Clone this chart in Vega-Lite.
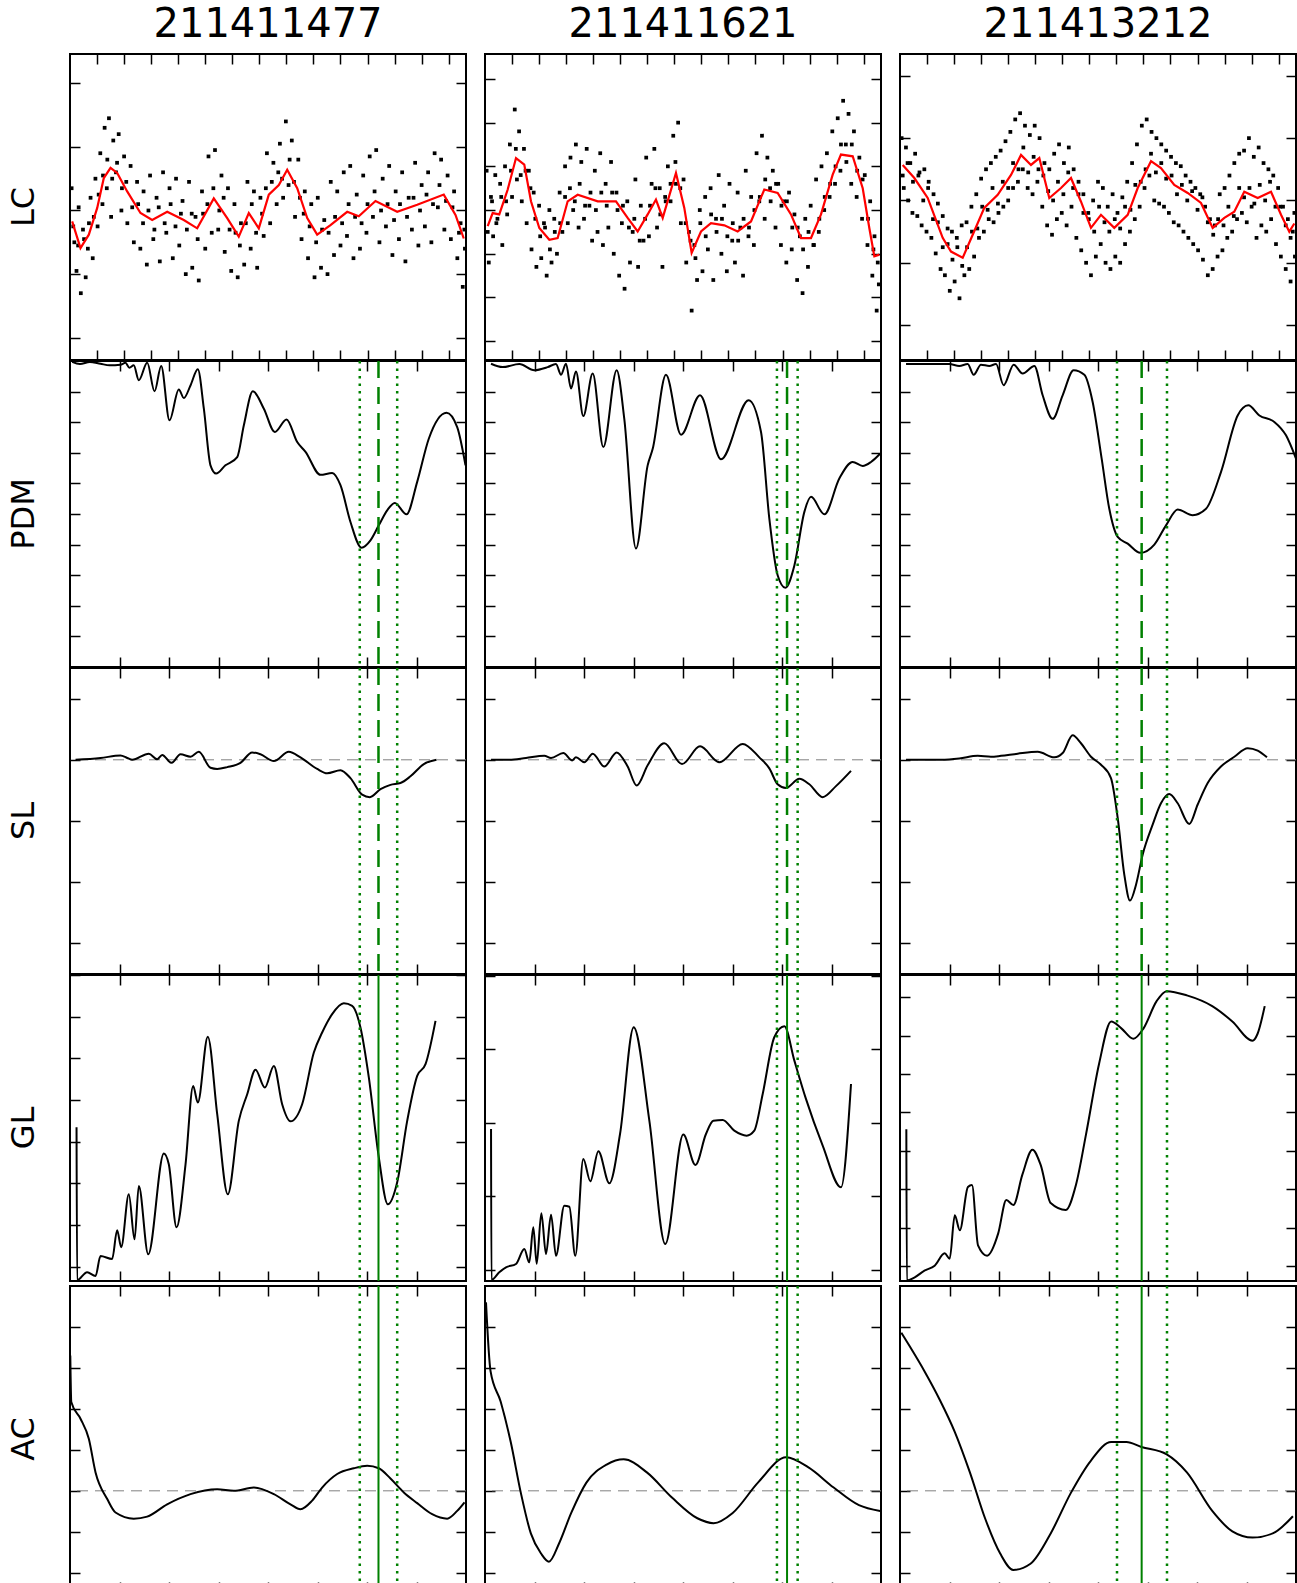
{
"$schema":"https://vega.github.io/schema/vega-lite/v6.json",
"background":"white",
"padding":{"left":7,"top":5,"right":0,"bottom":0},
"spacing":-7,
"config":{
 "font":"DejaVu Sans",
 "view":{"stroke":"black","strokeWidth":2},
 "axis":{"labels":false,"grid":false,"domain":false,"ticks":true,"tickSize":-10,"tickColor":"black","tickWidth":1.5,"minExtent":0,"maxExtent":0},
 "header":{"labelFont":"DejaVu Sans","labelColor":"black"},
 "headerColumn":{"labelFontSize":40,"labelPadding":8},
 "headerRow":{"labelFontSize":32,"labelAngle":-90,"labelPadding":14},
 "line":{"strokeWidth":2,"color":"black","clip":true}
},
"datasets":{
"LC":[
{"c":1,"k":"b","y":-2.35,"y2":2.46},{"c":2,"k":"b","y":-3.43,"y2":3.57},{"c":3,"k":"b","y":-2.56,"y2":2.35},
{"c":1,"k":"r","x":0.4,"y":-0.17},{"c":1,"k":"r","x":1.94,"y":-0.59},{"c":1,"k":"r","x":3.48,"y":-0.38},{"c":1,"k":"r","x":5.03,"y":0.04},{"c":1,"k":"r","x":6.25,"y":0.51},{"c":1,"k":"r","x":7.49,"y":0.67},{"c":1,"k":"r","x":8.72,"y":0.59},{"c":1,"k":"r","x":10.57,"y":0.3},{"c":1,"k":"r","x":13.03,"y":-0.04},{"c":1,"k":"r","x":15.19,"y":-0.15},{"c":1,"k":"r","x":17.97,"y":-0.02},{"c":1,"k":"r","x":21.03,"y":-0.15},{"c":1,"k":"r","x":23.51,"y":-0.28},{"c":1,"k":"r","x":26.58,"y":0.19},{"c":1,"k":"r","x":29.06,"y":-0.12},{"c":1,"k":"r","x":31.2,"y":-0.41},{"c":1,"k":"r","x":33.05,"y":-0.04},{"c":1,"k":"r","x":34.9,"y":-0.28},{"c":1,"k":"r","x":36.75,"y":0.25},{"c":1,"k":"r","x":38.6,"y":0.4},{"c":1,"k":"r","x":40.15,"y":0.64},{"c":1,"k":"r","x":42.0,"y":0.35},{"c":1,"k":"r","x":43.85,"y":-0.12},{"c":1,"k":"r","x":45.69,"y":-0.38},{"c":1,"k":"r","x":48.15,"y":-0.23},{"c":1,"k":"r","x":51.24,"y":-0.02},{"c":1,"k":"r","x":53.38,"y":-0.09},{"c":1,"k":"r","x":56.47,"y":0.15},{"c":1,"k":"r","x":60.48,"y":-0.02},{"c":1,"k":"r","x":64.18,"y":0.09},{"c":1,"k":"r","x":69.09,"y":0.25},{"c":1,"k":"r","x":71.26,"y":-0.07},{"c":1,"k":"r","x":72.79,"y":-0.44},
{"c":2,"k":"r","x":0.5,"y":-0.37},{"c":2,"k":"r","x":1.42,"y":-0.07},{"c":2,"k":"r","x":2.64,"y":-0.1},{"c":2,"k":"r","x":4.2,"y":0.47},{"c":2,"k":"r","x":5.73,"y":1.19},{"c":2,"k":"r","x":7.26,"y":1.04},{"c":2,"k":"r","x":8.5,"y":0.2},{"c":2,"k":"r","x":10.04,"y":-0.41},{"c":2,"k":"r","x":11.89,"y":-0.68},{"c":2,"k":"r","x":13.43,"y":-0.64},{"c":2,"k":"r","x":15.28,"y":0.2},{"c":2,"k":"r","x":17.13,"y":0.35},{"c":2,"k":"r","x":20.83,"y":0.2},{"c":2,"k":"r","x":24.21,"y":0.2},{"c":2,"k":"r","x":26.37,"y":-0.18},{"c":2,"k":"r","x":28.22,"y":-0.49},{"c":2,"k":"r","x":30.07,"y":-0.1},{"c":2,"k":"r","x":31.6,"y":0.24},{"c":2,"k":"r","x":32.85,"y":-0.18},{"c":2,"k":"r","x":35.3,"y":0.85},{"c":2,"k":"r","x":36.84,"y":0.05},{"c":2,"k":"r","x":38.2,"y":-0.98},{"c":2,"k":"r","x":39.93,"y":-0.49},{"c":2,"k":"r","x":41.77,"y":-0.3},{"c":2,"k":"r","x":44.24,"y":-0.35},{"c":2,"k":"r","x":46.7,"y":-0.49},{"c":2,"k":"r","x":49.17,"y":-0.26},{"c":2,"k":"r","x":51.63,"y":0.47},{"c":2,"k":"r","x":54.1,"y":0.39},{"c":2,"k":"r","x":56.56,"y":-0.1},{"c":2,"k":"r","x":58.41,"y":-0.64},{"c":2,"k":"r","x":60.26,"y":-0.64},{"c":2,"k":"r","x":62.11,"y":-0.1},{"c":2,"k":"r","x":64.27,"y":0.81},{"c":2,"k":"r","x":65.8,"y":1.27},{"c":2,"k":"r","x":67.97,"y":1.23},{"c":2,"k":"r","x":69.82,"y":0.5},{"c":2,"k":"r","x":71.04,"y":-0.41},{"c":2,"k":"r","x":71.97,"y":-1.06},{"c":2,"k":"r","x":72.9,"y":-1.02},
{"c":3,"k":"r","x":0.5,"y":0.57},{"c":3,"k":"r","x":2.65,"y":0.36},{"c":3,"k":"r","x":5.12,"y":0.04},{"c":3,"k":"r","x":7.89,"y":-0.6},{"c":3,"k":"r","x":9.43,"y":-0.82},{"c":3,"k":"r","x":11.59,"y":-0.92},{"c":3,"k":"r","x":13.44,"y":-0.55},{"c":3,"k":"r","x":15.58,"y":-0.12},{"c":3,"k":"r","x":18.06,"y":0.09},{"c":3,"k":"r","x":20.52,"y":0.41},{"c":3,"k":"r","x":22.37,"y":0.73},{"c":3,"k":"r","x":24.21,"y":0.57},{"c":3,"k":"r","x":25.75,"y":0.68},{"c":3,"k":"r","x":27.6,"y":0.04},{"c":3,"k":"r","x":29.76,"y":0.2},{"c":3,"k":"r","x":31.61,"y":0.36},{"c":3,"k":"r","x":33.46,"y":-0.02},{"c":3,"k":"r","x":35.3,"y":-0.44},{"c":3,"k":"r","x":37.15,"y":-0.23},{"c":3,"k":"r","x":39.61,"y":-0.44},{"c":3,"k":"r","x":42.09,"y":-0.23},{"c":3,"k":"r","x":43.94,"y":0.2},{"c":3,"k":"r","x":46.4,"y":0.63},{"c":3,"k":"r","x":48.24,"y":0.52},{"c":3,"k":"r","x":50.7,"y":0.25},{"c":3,"k":"r","x":53.18,"y":0.12},{"c":3,"k":"r","x":55.64,"y":-0.04},{"c":3,"k":"r","x":57.8,"y":-0.44},{"c":3,"k":"r","x":59.95,"y":-0.28},{"c":3,"k":"r","x":61.79,"y":-0.18},{"c":3,"k":"r","x":63.64,"y":0.14},{"c":3,"k":"r","x":66.12,"y":0.04},{"c":3,"k":"r","x":68.58,"y":0.14},{"c":3,"k":"r","x":70.43,"y":-0.23},{"c":3,"k":"r","x":71.96,"y":-0.5},{"c":3,"k":"r","x":72.89,"y":-0.37},
{"c":1,"k":"p","x":0.3,"y":0.35},{"c":1,"k":"p","x":0.8,"y":-0.5},{"c":1,"k":"p","x":1.2,"y":-0.95},{"c":1,"k":"p","x":1.6,"y":0.05},{"c":1,"k":"p","x":2.0,"y":-1.3},{"c":1,"k":"p","x":2.4,"y":-0.3},{"c":1,"k":"p","x":2.9,"y":-1.05},{"c":1,"k":"p","x":3.3,"y":-0.6},{"c":1,"k":"p","x":3.8,"y":0.2},{"c":1,"k":"p","x":4.2,"y":-0.75},{"c":1,"k":"p","x":4.7,"y":0.5},{"c":1,"k":"p","x":5.1,"y":-0.25},{"c":1,"k":"p","x":5.6,"y":0.9},{"c":1,"k":"p","x":6.0,"y":0.1},{"c":1,"k":"p","x":6.4,"y":1.3},{"c":1,"k":"p","x":6.8,"y":0.35},{"c":1,"k":"p","x":7.2,"y":1.45},{"c":1,"k":"p","x":7.6,"y":-0.1},{"c":1,"k":"p","x":8.0,"y":1.1},{"c":1,"k":"p","x":8.5,"y":0.6},{"c":1,"k":"p","x":9.0,"y":1.2},{"c":1,"k":"p","x":9.5,"y":0.0},{"c":1,"k":"p","x":10.0,"y":0.85},{"c":1,"k":"p","x":10.6,"y":-0.2},{"c":1,"k":"p","x":11.2,"y":0.7},{"c":1,"k":"p","x":11.8,"y":-0.5},{"c":1,"k":"p","x":12.4,"y":0.45},{"c":1,"k":"p","x":13.0,"y":-0.6},{"c":1,"k":"p","x":13.6,"y":0.3},{"c":1,"k":"p","x":14.2,"y":-0.85},{"c":1,"k":"p","x":14.8,"y":0.55},{"c":1,"k":"p","x":15.4,"y":-0.45},{"c":1,"k":"p","x":16.0,"y":0.2},{"c":1,"k":"p","x":16.6,"y":-0.8},{"c":1,"k":"p","x":17.2,"y":0.6},{"c":1,"k":"p","x":17.8,"y":-0.35},{"c":1,"k":"p","x":18.4,"y":0.35},{"c":1,"k":"p","x":19.0,"y":-0.75},{"c":1,"k":"p","x":19.6,"y":0.5},{"c":1,"k":"p","x":20.2,"y":-0.55},{"c":1,"k":"p","x":20.8,"y":0.15},{"c":1,"k":"p","x":21.4,"y":-1.0},{"c":1,"k":"p","x":22.0,"y":0.45},{"c":1,"k":"p","x":22.6,"y":-0.9},{"c":1,"k":"p","x":23.2,"y":-0.1},{"c":1,"k":"p","x":23.8,"y":-1.1},{"c":1,"k":"p","x":24.4,"y":0.3},{"c":1,"k":"p","x":25.0,"y":-0.6},{"c":1,"k":"p","x":25.6,"y":0.85},{"c":1,"k":"p","x":26.2,"y":-0.35},{"c":1,"k":"p","x":26.8,"y":0.95},{"c":1,"k":"p","x":27.4,"y":-0.3},{"c":1,"k":"p","x":28.0,"y":0.55},{"c":1,"k":"p","x":28.6,"y":-0.65},{"c":1,"k":"p","x":29.2,"y":0.35},{"c":1,"k":"p","x":29.8,"y":-0.95},{"c":1,"k":"p","x":30.4,"y":0.1},{"c":1,"k":"p","x":31.0,"y":-1.05},{"c":1,"k":"p","x":31.6,"y":-0.2},{"c":1,"k":"p","x":32.2,"y":-0.85},{"c":1,"k":"p","x":32.8,"y":0.45},{"c":1,"k":"p","x":33.4,"y":-0.6},{"c":1,"k":"p","x":34.0,"y":0.3},{"c":1,"k":"p","x":34.6,"y":-0.9},{"c":1,"k":"p","x":35.2,"y":0.2},{"c":1,"k":"p","x":35.8,"y":-0.4},{"c":1,"k":"p","x":36.4,"y":0.9},{"c":1,"k":"p","x":37.0,"y":-0.2},{"c":1,"k":"p","x":37.6,"y":0.75},{"c":1,"k":"p","x":38.2,"y":0.1},{"c":1,"k":"p","x":38.8,"y":1.05},{"c":1,"k":"p","x":39.4,"y":0.2},{"c":1,"k":"p","x":39.9,"y":1.4},{"c":1,"k":"p","x":40.4,"y":0.4},{"c":1,"k":"p","x":41.0,"y":1.1},{"c":1,"k":"p","x":41.6,"y":-0.1},{"c":1,"k":"p","x":42.2,"y":0.8},{"c":1,"k":"p","x":42.8,"y":-0.45},{"c":1,"k":"p","x":43.4,"y":0.3},{"c":1,"k":"p","x":44.0,"y":-0.75},{"c":1,"k":"p","x":44.6,"y":0.1},{"c":1,"k":"p","x":45.2,"y":-1.05},{"c":1,"k":"p","x":45.8,"y":0.2},{"c":1,"k":"p","x":46.4,"y":-0.9},{"c":1,"k":"p","x":47.0,"y":-0.15},{"c":1,"k":"p","x":47.6,"y":-1.0},{"c":1,"k":"p","x":48.2,"y":0.45},{"c":1,"k":"p","x":48.8,"y":-0.7},{"c":1,"k":"p","x":49.4,"y":0.3},{"c":1,"k":"p","x":50.0,"y":-0.55},{"c":1,"k":"p","x":50.6,"y":0.6},{"c":1,"k":"p","x":51.2,"y":-0.4},{"c":1,"k":"p","x":51.8,"y":0.7},{"c":1,"k":"p","x":52.4,"y":-0.75},{"c":1,"k":"p","x":53.0,"y":0.25},{"c":1,"k":"p","x":53.6,"y":-0.6},{"c":1,"k":"p","x":54.2,"y":0.55},{"c":1,"k":"p","x":54.8,"y":-0.35},{"c":1,"k":"p","x":55.4,"y":0.85},{"c":1,"k":"p","x":56.0,"y":-0.1},{"c":1,"k":"p","x":56.6,"y":0.95},{"c":1,"k":"p","x":57.2,"y":-0.5},{"c":1,"k":"p","x":57.8,"y":0.5},{"c":1,"k":"p","x":58.4,"y":-0.25},{"c":1,"k":"p","x":59.0,"y":0.7},{"c":1,"k":"p","x":59.6,"y":-0.7},{"c":1,"k":"p","x":60.2,"y":0.3},{"c":1,"k":"p","x":60.8,"y":-0.45},{"c":1,"k":"p","x":61.4,"y":0.6},{"c":1,"k":"p","x":62.0,"y":-0.8},{"c":1,"k":"p","x":62.6,"y":0.2},{"c":1,"k":"p","x":63.2,"y":-0.3},{"c":1,"k":"p","x":63.8,"y":0.75},{"c":1,"k":"p","x":64.4,"y":-0.55},{"c":1,"k":"p","x":65.0,"y":0.4},{"c":1,"k":"p","x":65.6,"y":-0.25},{"c":1,"k":"p","x":66.2,"y":0.6},{"c":1,"k":"p","x":66.8,"y":-0.5},{"c":1,"k":"p","x":67.4,"y":0.9},{"c":1,"k":"p","x":68.0,"y":0.05},{"c":1,"k":"p","x":68.6,"y":0.8},{"c":1,"k":"p","x":69.2,"y":-0.3},{"c":1,"k":"p","x":69.8,"y":0.55},{"c":1,"k":"p","x":70.4,"y":-0.45},{"c":1,"k":"p","x":71.0,"y":0.3},{"c":1,"k":"p","x":71.6,"y":-0.75},{"c":1,"k":"p","x":72.2,"y":-0.2},{"c":1,"k":"p","x":72.6,"y":-1.2},{"c":1,"k":"p","x":73.0,"y":-0.6},
{"c":1,"k":"p","x":0.6,"y":-0.25},{"c":1,"k":"p","x":1.5,"y":-0.55},{"c":1,"k":"p","x":2.6,"y":-0.45},{"c":1,"k":"p","x":3.5,"y":-0.2},{"c":1,"k":"p","x":4.4,"y":-0.1},{"c":1,"k":"p","x":5.3,"y":0.25},{"c":1,"k":"p","x":6.1,"y":0.55},{"c":1,"k":"p","x":6.9,"y":0.8},{"c":1,"k":"p","x":7.8,"y":0.5},{"c":1,"k":"p","x":8.7,"y":0.75},{"c":1,"k":"p","x":9.6,"y":0.35},{"c":1,"k":"p","x":10.4,"y":0.45},{"c":1,"k":"p","x":11.5,"y":0.05},{"c":1,"k":"p","x":12.6,"y":0.1},{"c":1,"k":"p","x":13.5,"y":-0.2},{"c":1,"k":"p","x":14.5,"y":0.0},{"c":1,"k":"p","x":15.6,"y":-0.3},{"c":1,"k":"p","x":16.4,"y":0.05},{"c":1,"k":"p","x":17.5,"y":-0.2},{"c":1,"k":"p","x":18.6,"y":0.1},{"c":1,"k":"p","x":19.5,"y":-0.25},{"c":1,"k":"p","x":20.5,"y":-0.05},{"c":1,"k":"p","x":21.6,"y":-0.3},{"c":1,"k":"p","x":22.5,"y":-0.05},{"c":1,"k":"p","x":23.6,"y":-0.45},{"c":1,"k":"p","x":24.6,"y":-0.05},{"c":1,"k":"p","x":25.4,"y":0.1},{"c":1,"k":"p","x":26.5,"y":0.35},{"c":1,"k":"p","x":27.6,"y":0.0},{"c":1,"k":"p","x":28.4,"y":0.2},{"c":1,"k":"p","x":29.5,"y":-0.3},{"c":1,"k":"p","x":30.6,"y":-0.35},{"c":1,"k":"p","x":31.4,"y":-0.55},{"c":1,"k":"p","x":32.5,"y":-0.2},{"c":1,"k":"p","x":33.6,"y":0.1},{"c":1,"k":"p","x":34.4,"y":-0.35},{"c":1,"k":"p","x":35.5,"y":-0.05},{"c":1,"k":"p","x":36.2,"y":0.35},{"c":1,"k":"p","x":37.3,"y":0.45},{"c":1,"k":"p","x":38.5,"y":0.6},{"c":1,"k":"p","x":39.2,"y":0.5},{"c":1,"k":"p","x":40.6,"y":0.8},{"c":1,"k":"p","x":41.4,"y":0.45},{"c":1,"k":"p","x":42.5,"y":0.2},{"c":1,"k":"p","x":43.2,"y":-0.05},{"c":1,"k":"p","x":44.3,"y":-0.25},{"c":1,"k":"p","x":45.5,"y":-0.5},{"c":1,"k":"p","x":46.6,"y":-0.3},{"c":1,"k":"p","x":47.8,"y":-0.35},{"c":1,"k":"p","x":49.0,"y":-0.1},{"c":1,"k":"p","x":50.3,"y":-0.2},{"c":1,"k":"p","x":51.5,"y":0.1},{"c":1,"k":"p","x":52.7,"y":-0.1},{"c":1,"k":"p","x":53.9,"y":-0.2},{"c":1,"k":"p","x":55.0,"y":0.1},{"c":1,"k":"p","x":56.3,"y":0.3},{"c":1,"k":"p","x":57.5,"y":0.0},{"c":1,"k":"p","x":58.7,"y":0.1},{"c":1,"k":"p","x":59.9,"y":-0.15},{"c":1,"k":"p","x":61.0,"y":0.1},{"c":1,"k":"p","x":62.3,"y":-0.1},{"c":1,"k":"p","x":63.5,"y":0.2},{"c":1,"k":"p","x":64.7,"y":0.0},{"c":1,"k":"p","x":65.9,"y":0.25},{"c":1,"k":"p","x":67.1,"y":0.1},{"c":1,"k":"p","x":68.3,"y":0.4},{"c":1,"k":"p","x":69.5,"y":0.15},{"c":1,"k":"p","x":70.7,"y":0.05},{"c":1,"k":"p","x":71.9,"y":-0.35},{"c":1,"k":"p","x":72.9,"y":-0.3},
{"c":2,"k":"p","x":0.3,"y":0.9},{"c":2,"k":"p","x":0.7,"y":-1.2},{"c":2,"k":"p","x":1.1,"y":0.3},{"c":2,"k":"p","x":1.5,"y":-0.6},{"c":2,"k":"p","x":1.9,"y":0.8},{"c":2,"k":"p","x":2.3,"y":-0.2},{"c":2,"k":"p","x":2.8,"y":0.6},{"c":2,"k":"p","x":3.2,"y":-0.8},{"c":2,"k":"p","x":3.7,"y":1.0},{"c":2,"k":"p","x":4.1,"y":-0.1},{"c":2,"k":"p","x":4.6,"y":1.5},{"c":2,"k":"p","x":5.0,"y":0.3},{"c":2,"k":"p","x":5.5,"y":2.3},{"c":2,"k":"p","x":5.9,"y":0.7},{"c":2,"k":"p","x":6.3,"y":1.8},{"c":2,"k":"p","x":6.8,"y":0.2},{"c":2,"k":"p","x":7.2,"y":1.4},{"c":2,"k":"p","x":7.7,"y":-0.3},{"c":2,"k":"p","x":8.1,"y":0.9},{"c":2,"k":"p","x":8.6,"y":-0.9},{"c":2,"k":"p","x":9.0,"y":0.4},{"c":2,"k":"p","x":9.5,"y":-1.3},{"c":2,"k":"p","x":10.0,"y":0.1},{"c":2,"k":"p","x":10.4,"y":-1.1},{"c":2,"k":"p","x":10.9,"y":-0.3},{"c":2,"k":"p","x":11.4,"y":-1.5},{"c":2,"k":"p","x":11.9,"y":0.0},{"c":2,"k":"p","x":12.3,"y":-1.2},{"c":2,"k":"p","x":12.8,"y":-0.2},{"c":2,"k":"p","x":13.3,"y":-1.0},{"c":2,"k":"p","x":13.8,"y":0.4},{"c":2,"k":"p","x":14.3,"y":-0.5},{"c":2,"k":"p","x":14.8,"y":1.0},{"c":2,"k":"p","x":15.3,"y":-0.3},{"c":2,"k":"p","x":15.8,"y":1.2},{"c":2,"k":"p","x":16.3,"y":0.0},{"c":2,"k":"p","x":16.8,"y":1.5},{"c":2,"k":"p","x":17.3,"y":-0.4},{"c":2,"k":"p","x":17.8,"y":1.1},{"c":2,"k":"p","x":18.3,"y":-0.2},{"c":2,"k":"p","x":18.8,"y":1.4},{"c":2,"k":"p","x":19.3,"y":0.1},{"c":2,"k":"p","x":19.8,"y":-0.7},{"c":2,"k":"p","x":20.3,"y":0.9},{"c":2,"k":"p","x":20.8,"y":-0.5},{"c":2,"k":"p","x":21.3,"y":1.3},{"c":2,"k":"p","x":21.8,"y":-0.8},{"c":2,"k":"p","x":22.3,"y":0.6},{"c":2,"k":"p","x":22.8,"y":-0.4},{"c":2,"k":"p","x":23.3,"y":1.1},{"c":2,"k":"p","x":23.8,"y":-1.0},{"c":2,"k":"p","x":24.3,"y":0.4},{"c":2,"k":"p","x":24.8,"y":-1.5},{"c":2,"k":"p","x":25.3,"y":-0.3},{"c":2,"k":"p","x":25.8,"y":-1.8},{"c":2,"k":"p","x":26.3,"y":0.2},{"c":2,"k":"p","x":26.8,"y":-1.2},{"c":2,"k":"p","x":27.3,"y":-0.5},{"c":2,"k":"p","x":27.8,"y":0.7},{"c":2,"k":"p","x":28.3,"y":-1.3},{"c":2,"k":"p","x":28.8,"y":0.1},{"c":2,"k":"p","x":29.3,"y":-0.7},{"c":2,"k":"p","x":29.8,"y":1.2},{"c":2,"k":"p","x":30.3,"y":-0.6},{"c":2,"k":"p","x":30.8,"y":0.6},{"c":2,"k":"p","x":31.3,"y":1.4},{"c":2,"k":"p","x":31.8,"y":-0.4},{"c":2,"k":"p","x":32.3,"y":0.5},{"c":2,"k":"p","x":32.8,"y":-1.3},{"c":2,"k":"p","x":33.3,"y":0.3},{"c":2,"k":"p","x":33.8,"y":1.0},{"c":2,"k":"p","x":34.3,"y":0.2},{"c":2,"k":"p","x":34.8,"y":1.7},{"c":2,"k":"p","x":35.3,"y":0.6},{"c":2,"k":"p","x":35.7,"y":2.0},{"c":2,"k":"p","x":36.2,"y":-0.3},{"c":2,"k":"p","x":36.7,"y":0.7},{"c":2,"k":"p","x":37.2,"y":-1.2},{"c":2,"k":"p","x":37.7,"y":-0.5},{"c":2,"k":"p","x":38.2,"y":-2.3},{"c":2,"k":"p","x":38.7,"y":-0.8},{"c":2,"k":"p","x":39.2,"y":-1.6},{"c":2,"k":"p","x":39.7,"y":0.0},{"c":2,"k":"p","x":40.2,"y":-1.4},{"c":2,"k":"p","x":40.7,"y":0.3},{"c":2,"k":"p","x":41.2,"y":-0.9},{"c":2,"k":"p","x":41.7,"y":0.5},{"c":2,"k":"p","x":42.2,"y":-1.6},{"c":2,"k":"p","x":42.7,"y":-0.2},{"c":2,"k":"p","x":43.2,"y":0.8},{"c":2,"k":"p","x":43.7,"y":-1.0},{"c":2,"k":"p","x":44.2,"y":0.1},{"c":2,"k":"p","x":44.7,"y":-1.4},{"c":2,"k":"p","x":45.2,"y":0.6},{"c":2,"k":"p","x":45.7,"y":-0.7},{"c":2,"k":"p","x":46.2,"y":-1.2},{"c":2,"k":"p","x":46.7,"y":0.4},{"c":2,"k":"p","x":47.2,"y":-0.4},{"c":2,"k":"p","x":47.7,"y":-1.5},{"c":2,"k":"p","x":48.2,"y":0.9},{"c":2,"k":"p","x":48.7,"y":-0.6},{"c":2,"k":"p","x":49.2,"y":0.3},{"c":2,"k":"p","x":49.7,"y":-0.8},{"c":2,"k":"p","x":50.2,"y":1.3},{"c":2,"k":"p","x":50.7,"y":0.2},{"c":2,"k":"p","x":51.2,"y":1.7},{"c":2,"k":"p","x":51.7,"y":-0.2},{"c":2,"k":"p","x":52.2,"y":1.2},{"c":2,"k":"p","x":52.7,"y":0.5},{"c":2,"k":"p","x":53.2,"y":0.9},{"c":2,"k":"p","x":53.7,"y":-0.4},{"c":2,"k":"p","x":54.2,"y":0.6},{"c":2,"k":"p","x":54.7,"y":-0.8},{"c":2,"k":"p","x":55.2,"y":0.2},{"c":2,"k":"p","x":55.7,"y":-1.2},{"c":2,"k":"p","x":56.2,"y":0.4},{"c":2,"k":"p","x":56.7,"y":-0.9},{"c":2,"k":"p","x":57.2,"y":-0.1},{"c":2,"k":"p","x":57.7,"y":-1.6},{"c":2,"k":"p","x":58.2,"y":-0.6},{"c":2,"k":"p","x":58.7,"y":-1.9},{"c":2,"k":"p","x":59.2,"y":-0.2},{"c":2,"k":"p","x":59.7,"y":-1.3},{"c":2,"k":"p","x":60.2,"y":0.1},{"c":2,"k":"p","x":60.7,"y":-0.8},{"c":2,"k":"p","x":61.2,"y":0.7},{"c":2,"k":"p","x":61.7,"y":-0.5},{"c":2,"k":"p","x":62.2,"y":1.0},{"c":2,"k":"p","x":62.7,"y":0.0},{"c":2,"k":"p","x":63.2,"y":1.3},{"c":2,"k":"p","x":63.7,"y":0.3},{"c":2,"k":"p","x":64.2,"y":1.8},{"c":2,"k":"p","x":64.7,"y":0.6},{"c":2,"k":"p","x":65.2,"y":2.1},{"c":2,"k":"p","x":65.7,"y":0.9},{"c":2,"k":"p","x":66.2,"y":2.5},{"c":2,"k":"p","x":66.7,"y":1.5},{"c":2,"k":"p","x":67.2,"y":2.2},{"c":2,"k":"p","x":67.7,"y":0.6},{"c":2,"k":"p","x":68.2,"y":1.8},{"c":2,"k":"p","x":68.7,"y":0.3},{"c":2,"k":"p","x":69.2,"y":1.2},{"c":2,"k":"p","x":69.7,"y":-0.2},{"c":2,"k":"p","x":70.2,"y":0.8},{"c":2,"k":"p","x":70.7,"y":-0.8},{"c":2,"k":"p","x":71.2,"y":0.2},{"c":2,"k":"p","x":71.6,"y":-1.5},{"c":2,"k":"p","x":72.0,"y":-0.6},{"c":2,"k":"p","x":72.4,"y":-2.3},{"c":2,"k":"p","x":72.8,"y":-1.7},
{"c":2,"k":"p","x":0.5,"y":-0.5},{"c":2,"k":"p","x":1.3,"y":0.2},{"c":2,"k":"p","x":2.1,"y":-0.3},{"c":2,"k":"p","x":3.0,"y":0.3},{"c":2,"k":"p","x":3.9,"y":0.2},{"c":2,"k":"p","x":4.8,"y":0.9},{"c":2,"k":"p","x":5.7,"y":1.4},{"c":2,"k":"p","x":6.6,"y":0.8},{"c":2,"k":"p","x":7.5,"y":0.9},{"c":2,"k":"p","x":8.4,"y":0.5},{"c":2,"k":"p","x":9.3,"y":-0.2},{"c":2,"k":"p","x":10.2,"y":-0.6},{"c":2,"k":"p","x":11.1,"y":-0.4},{"c":2,"k":"p","x":12.0,"y":-0.9},{"c":2,"k":"p","x":12.9,"y":-0.5},{"c":2,"k":"p","x":13.9,"y":-0.3},{"c":2,"k":"p","x":14.8,"y":0.3},{"c":2,"k":"p","x":15.7,"y":0.5},{"c":2,"k":"p","x":16.6,"y":0.2},{"c":2,"k":"p","x":17.5,"y":0.6},{"c":2,"k":"p","x":18.5,"y":0.1},{"c":2,"k":"p","x":19.5,"y":0.4},{"c":2,"k":"p","x":20.5,"y":0.0},{"c":2,"k":"p","x":21.5,"y":0.4},{"c":2,"k":"p","x":22.5,"y":0.1},{"c":2,"k":"p","x":23.5,"y":0.4},{"c":2,"k":"p","x":24.5,"y":0.0},{"c":2,"k":"p","x":25.5,"y":0.1},{"c":2,"k":"p","x":26.6,"y":-0.4},{"c":2,"k":"p","x":27.6,"y":-0.2},{"c":2,"k":"p","x":28.6,"y":-0.7},{"c":2,"k":"p","x":29.6,"y":-0.2},{"c":2,"k":"p","x":30.5,"y":0.1},{"c":2,"k":"p","x":31.5,"y":0.5},{"c":2,"k":"p","x":32.4,"y":-0.1},{"c":2,"k":"p","x":33.4,"y":0.2},{"c":2,"k":"p","x":34.3,"y":0.6},{"c":2,"k":"p","x":35.2,"y":1.1},{"c":2,"k":"p","x":36.1,"y":0.5},{"c":2,"k":"p","x":37.1,"y":-0.3},{"c":2,"k":"p","x":38.0,"y":-0.7},{"c":2,"k":"p","x":38.9,"y":-1.1},{"c":2,"k":"p","x":39.8,"y":-0.3},{"c":2,"k":"p","x":40.8,"y":-0.6},{"c":2,"k":"p","x":41.8,"y":-0.1},{"c":2,"k":"p","x":42.8,"y":-0.5},{"c":2,"k":"p","x":43.8,"y":-0.2},{"c":2,"k":"p","x":44.8,"y":-0.6},{"c":2,"k":"p","x":45.8,"y":-0.3},{"c":2,"k":"p","x":46.8,"y":-0.7},{"c":2,"k":"p","x":47.8,"y":-0.2},{"c":2,"k":"p","x":48.8,"y":-0.4},{"c":2,"k":"p","x":49.8,"y":0.0},{"c":2,"k":"p","x":50.8,"y":0.3},{"c":2,"k":"p","x":51.8,"y":0.7},{"c":2,"k":"p","x":52.8,"y":0.2},{"c":2,"k":"p","x":53.8,"y":0.6},{"c":2,"k":"p","x":54.8,"y":0.1},{"c":2,"k":"p","x":55.8,"y":0.2},{"c":2,"k":"p","x":56.8,"y":-0.4},{"c":2,"k":"p","x":57.8,"y":-0.4},{"c":2,"k":"p","x":58.8,"y":-0.9},{"c":2,"k":"p","x":59.8,"y":-0.5},{"c":2,"k":"p","x":60.8,"y":-0.8},{"c":2,"k":"p","x":61.8,"y":-0.2},{"c":2,"k":"p","x":62.8,"y":0.3},{"c":2,"k":"p","x":63.8,"y":0.6},{"c":2,"k":"p","x":64.8,"y":1.0},{"c":2,"k":"p","x":65.8,"y":1.5},{"c":2,"k":"p","x":66.8,"y":1.1},{"c":2,"k":"p","x":67.8,"y":1.5},{"c":2,"k":"p","x":68.8,"y":0.9},{"c":2,"k":"p","x":69.8,"y":0.7},{"c":2,"k":"p","x":70.8,"y":-0.2},{"c":2,"k":"p","x":71.8,"y":-0.9},{"c":2,"k":"p","x":72.6,"y":-1.2},
{"c":3,"k":"p","x":0.3,"y":1.0},{"c":3,"k":"p","x":0.7,"y":0.2},{"c":3,"k":"p","x":1.1,"y":0.85},{"c":3,"k":"p","x":1.5,"y":0.0},{"c":3,"k":"p","x":1.9,"y":0.6},{"c":3,"k":"p","x":2.3,"y":-0.2},{"c":3,"k":"p","x":2.8,"y":0.75},{"c":3,"k":"p","x":3.2,"y":-0.25},{"c":3,"k":"p","x":3.6,"y":0.45},{"c":3,"k":"p","x":4.0,"y":-0.4},{"c":3,"k":"p","x":4.5,"y":0.5},{"c":3,"k":"p","x":4.9,"y":-0.5},{"c":3,"k":"p","x":5.3,"y":0.3},{"c":3,"k":"p","x":5.8,"y":-0.6},{"c":3,"k":"p","x":6.2,"y":0.1},{"c":3,"k":"p","x":6.6,"y":-0.85},{"c":3,"k":"p","x":7.0,"y":-0.05},{"c":3,"k":"p","x":7.5,"y":-1.1},{"c":3,"k":"p","x":7.9,"y":-0.25},{"c":3,"k":"p","x":8.3,"y":-1.2},{"c":3,"k":"p","x":8.8,"y":-0.45},{"c":3,"k":"p","x":9.2,"y":-1.45},{"c":3,"k":"p","x":9.6,"y":-0.5},{"c":3,"k":"p","x":10.1,"y":-1.3},{"c":3,"k":"p","x":10.5,"y":-0.6},{"c":3,"k":"p","x":11.0,"y":-1.57},{"c":3,"k":"p","x":11.4,"y":-0.4},{"c":3,"k":"p","x":11.9,"y":-1.2},{"c":3,"k":"p","x":12.3,"y":-0.35},{"c":3,"k":"p","x":12.8,"y":-1.1},{"c":3,"k":"p","x":13.2,"y":-0.1},{"c":3,"k":"p","x":13.7,"y":-0.9},{"c":3,"k":"p","x":14.1,"y":0.1},{"c":3,"k":"p","x":14.6,"y":-0.6},{"c":3,"k":"p","x":15.0,"y":0.35},{"c":3,"k":"p","x":15.5,"y":-0.5},{"c":3,"k":"p","x":15.9,"y":0.5},{"c":3,"k":"p","x":16.4,"y":-0.3},{"c":3,"k":"p","x":16.8,"y":0.6},{"c":3,"k":"p","x":17.3,"y":-0.35},{"c":3,"k":"p","x":17.7,"y":0.7},{"c":3,"k":"p","x":18.2,"y":-0.2},{"c":3,"k":"p","x":18.6,"y":0.8},{"c":3,"k":"p","x":19.1,"y":-0.1},{"c":3,"k":"p","x":19.5,"y":0.95},{"c":3,"k":"p","x":20.0,"y":0.0},{"c":3,"k":"p","x":20.4,"y":1.1},{"c":3,"k":"p","x":20.9,"y":0.2},{"c":3,"k":"p","x":21.3,"y":1.3},{"c":3,"k":"p","x":21.8,"y":0.3},{"c":3,"k":"p","x":22.2,"y":1.4},{"c":3,"k":"p","x":22.7,"y":0.5},{"c":3,"k":"p","x":23.1,"y":1.2},{"c":3,"k":"p","x":23.6,"y":0.2},{"c":3,"k":"p","x":24.0,"y":1.05},{"c":3,"k":"p","x":24.5,"y":0.1},{"c":3,"k":"p","x":24.9,"y":1.2},{"c":3,"k":"p","x":25.4,"y":0.3},{"c":3,"k":"p","x":25.8,"y":1.0},{"c":3,"k":"p","x":26.3,"y":-0.1},{"c":3,"k":"p","x":26.7,"y":0.6},{"c":3,"k":"p","x":27.2,"y":-0.4},{"c":3,"k":"p","x":27.6,"y":0.5},{"c":3,"k":"p","x":28.1,"y":-0.55},{"c":3,"k":"p","x":28.5,"y":0.75},{"c":3,"k":"p","x":29.0,"y":-0.3},{"c":3,"k":"p","x":29.4,"y":0.9},{"c":3,"k":"p","x":29.9,"y":-0.2},{"c":3,"k":"p","x":30.3,"y":0.6},{"c":3,"k":"p","x":30.8,"y":-0.4},{"c":3,"k":"p","x":31.2,"y":0.85},{"c":3,"k":"p","x":31.7,"y":-0.1},{"c":3,"k":"p","x":32.1,"y":0.5},{"c":3,"k":"p","x":32.6,"y":-0.6},{"c":3,"k":"p","x":33.0,"y":0.3},{"c":3,"k":"p","x":33.5,"y":-0.8},{"c":3,"k":"p","x":33.9,"y":0.1},{"c":3,"k":"p","x":34.4,"y":-1.0},{"c":3,"k":"p","x":34.8,"y":-0.2},{"c":3,"k":"p","x":35.3,"y":-1.2},{"c":3,"k":"p","x":35.7,"y":0.0},{"c":3,"k":"p","x":36.2,"y":-0.9},{"c":3,"k":"p","x":36.6,"y":0.3},{"c":3,"k":"p","x":37.1,"y":-0.7},{"c":3,"k":"p","x":37.5,"y":0.2},{"c":3,"k":"p","x":38.0,"y":-1.0},{"c":3,"k":"p","x":38.4,"y":-0.1},{"c":3,"k":"p","x":38.9,"y":-1.1},{"c":3,"k":"p","x":39.3,"y":0.1},{"c":3,"k":"p","x":39.8,"y":-0.9},{"c":3,"k":"p","x":40.2,"y":-0.2},{"c":3,"k":"p","x":40.7,"y":-1.0},{"c":3,"k":"p","x":41.1,"y":0.05},{"c":3,"k":"p","x":41.6,"y":-0.7},{"c":3,"k":"p","x":42.0,"y":0.3},{"c":3,"k":"p","x":42.5,"y":-0.5},{"c":3,"k":"p","x":42.9,"y":0.6},{"c":3,"k":"p","x":43.4,"y":-0.3},{"c":3,"k":"p","x":43.8,"y":0.9},{"c":3,"k":"p","x":44.3,"y":-0.1},{"c":3,"k":"p","x":44.7,"y":1.2},{"c":3,"k":"p","x":45.2,"y":0.2},{"c":3,"k":"p","x":45.6,"y":1.3},{"c":3,"k":"p","x":46.1,"y":0.4},{"c":3,"k":"p","x":46.5,"y":1.1},{"c":3,"k":"p","x":47.0,"y":0.0},{"c":3,"k":"p","x":47.4,"y":1.0},{"c":3,"k":"p","x":47.9,"y":-0.05},{"c":3,"k":"p","x":48.3,"y":0.9},{"c":3,"k":"p","x":48.8,"y":-0.1},{"c":3,"k":"p","x":49.2,"y":0.8},{"c":3,"k":"p","x":49.7,"y":-0.2},{"c":3,"k":"p","x":50.1,"y":0.7},{"c":3,"k":"p","x":50.6,"y":-0.35},{"c":3,"k":"p","x":51.0,"y":0.6},{"c":3,"k":"p","x":51.5,"y":-0.4},{"c":3,"k":"p","x":51.9,"y":0.55},{"c":3,"k":"p","x":52.4,"y":-0.5},{"c":3,"k":"p","x":52.8,"y":0.4},{"c":3,"k":"p","x":53.3,"y":-0.6},{"c":3,"k":"p","x":53.7,"y":0.3},{"c":3,"k":"p","x":54.2,"y":-0.7},{"c":3,"k":"p","x":54.6,"y":0.2},{"c":3,"k":"p","x":55.1,"y":-0.8},{"c":3,"k":"p","x":55.5,"y":0.1},{"c":3,"k":"p","x":56.0,"y":-0.95},{"c":3,"k":"p","x":56.4,"y":-0.1},{"c":3,"k":"p","x":56.9,"y":-1.2},{"c":3,"k":"p","x":57.3,"y":-0.3},{"c":3,"k":"p","x":57.8,"y":-1.1},{"c":3,"k":"p","x":58.2,"y":-0.4},{"c":3,"k":"p","x":58.7,"y":-0.9},{"c":3,"k":"p","x":59.1,"y":0.1},{"c":3,"k":"p","x":59.6,"y":-0.8},{"c":3,"k":"p","x":60.0,"y":0.2},{"c":3,"k":"p","x":60.5,"y":-0.6},{"c":3,"k":"p","x":60.9,"y":0.4},{"c":3,"k":"p","x":61.4,"y":-0.5},{"c":3,"k":"p","x":61.8,"y":0.6},{"c":3,"k":"p","x":62.3,"y":-0.3},{"c":3,"k":"p","x":62.7,"y":0.75},{"c":3,"k":"p","x":63.2,"y":-0.2},{"c":3,"k":"p","x":63.6,"y":0.8},{"c":3,"k":"p","x":64.1,"y":-0.35},{"c":3,"k":"p","x":64.5,"y":1.0},{"c":3,"k":"p","x":65.0,"y":-0.1},{"c":3,"k":"p","x":65.4,"y":0.7},{"c":3,"k":"p","x":65.9,"y":-0.6},{"c":3,"k":"p","x":66.3,"y":0.85},{"c":3,"k":"p","x":66.8,"y":-0.4},{"c":3,"k":"p","x":67.2,"y":0.6},{"c":3,"k":"p","x":67.7,"y":-0.5},{"c":3,"k":"p","x":68.1,"y":0.5},{"c":3,"k":"p","x":68.6,"y":-0.3},{"c":3,"k":"p","x":69.0,"y":0.4},{"c":3,"k":"p","x":69.5,"y":-0.7},{"c":3,"k":"p","x":69.9,"y":0.2},{"c":3,"k":"p","x":70.4,"y":-0.9},{"c":3,"k":"p","x":70.8,"y":-0.1},{"c":3,"k":"p","x":71.3,"y":-1.1},{"c":3,"k":"p","x":71.7,"y":-0.3},{"c":3,"k":"p","x":72.2,"y":-1.3},{"c":3,"k":"p","x":72.6,"y":-0.5},{"c":3,"k":"p","x":73.0,"y":-0.9},
{"c":3,"k":"p","x":0.5,"y":0.4},{"c":3,"k":"p","x":1.4,"y":0.6},{"c":3,"k":"p","x":2.4,"y":0.3},{"c":3,"k":"p","x":3.4,"y":0.4},{"c":3,"k":"p","x":4.3,"y":0.0},{"c":3,"k":"p","x":5.2,"y":0.2},{"c":3,"k":"p","x":6.1,"y":-0.3},{"c":3,"k":"p","x":7.0,"y":-0.35},{"c":3,"k":"p","x":7.9,"y":-0.75},{"c":3,"k":"p","x":8.8,"y":-0.7},{"c":3,"k":"p","x":9.7,"y":-0.95},{"c":3,"k":"p","x":10.6,"y":-0.75},{"c":3,"k":"p","x":11.5,"y":-1.05},{"c":3,"k":"p","x":12.4,"y":-0.75},{"c":3,"k":"p","x":13.3,"y":-0.5},{"c":3,"k":"p","x":14.3,"y":-0.45},{"c":3,"k":"p","x":15.2,"y":-0.1},{"c":3,"k":"p","x":16.2,"y":-0.15},{"c":3,"k":"p","x":17.1,"y":0.2},{"c":3,"k":"p","x":18.1,"y":-0.05},{"c":3,"k":"p","x":19.0,"y":0.3},{"c":3,"k":"p","x":20.0,"y":0.2},{"c":3,"k":"p","x":20.9,"y":0.6},{"c":3,"k":"p","x":21.9,"y":0.5},{"c":3,"k":"p","x":22.8,"y":0.85},{"c":3,"k":"p","x":23.7,"y":0.45},{"c":3,"k":"p","x":24.7,"y":0.7},{"c":3,"k":"p","x":25.6,"y":0.5},{"c":3,"k":"p","x":26.5,"y":0.4},{"c":3,"k":"p","x":27.4,"y":0.15},{"c":3,"k":"p","x":28.3,"y":0.0},{"c":3,"k":"p","x":29.2,"y":0.3},{"c":3,"k":"p","x":30.2,"y":0.1},{"c":3,"k":"p","x":31.1,"y":0.45},{"c":3,"k":"p","x":32.0,"y":0.2},{"c":3,"k":"p","x":33.0,"y":0.1},{"c":3,"k":"p","x":33.9,"y":-0.2},{"c":3,"k":"p","x":34.9,"y":-0.3},{"c":3,"k":"p","x":35.9,"y":-0.5},{"c":3,"k":"p","x":36.8,"y":-0.1},{"c":3,"k":"p","x":37.8,"y":-0.35},{"c":3,"k":"p","x":38.7,"y":-0.5},{"c":3,"k":"p","x":39.7,"y":-0.3},{"c":3,"k":"p","x":40.7,"y":-0.45},{"c":3,"k":"p","x":41.6,"y":-0.1},{"c":3,"k":"p","x":42.6,"y":-0.15},{"c":3,"k":"p","x":43.5,"y":0.25},{"c":3,"k":"p","x":44.5,"y":0.3},{"c":3,"k":"p","x":45.4,"y":0.5},{"c":3,"k":"p","x":46.4,"y":0.75},{"c":3,"k":"p","x":47.3,"y":0.45},{"c":3,"k":"p","x":48.3,"y":0.6},{"c":3,"k":"p","x":49.2,"y":0.35},{"c":3,"k":"p","x":50.2,"y":0.4},{"c":3,"k":"p","x":51.2,"y":0.1},{"c":3,"k":"p","x":52.1,"y":0.25},{"c":3,"k":"p","x":53.1,"y":0.0},{"c":3,"k":"p","x":54.0,"y":0.15},{"c":3,"k":"p","x":55.0,"y":-0.15},{"c":3,"k":"p","x":55.9,"y":0.05},{"c":3,"k":"p","x":56.9,"y":-0.35},{"c":3,"k":"p","x":57.9,"y":-0.55},{"c":3,"k":"p","x":58.8,"y":-0.3},{"c":3,"k":"p","x":59.8,"y":-0.4},{"c":3,"k":"p","x":60.7,"y":-0.1},{"c":3,"k":"p","x":61.7,"y":-0.25},{"c":3,"k":"p","x":62.7,"y":0.2},{"c":3,"k":"p","x":63.6,"y":0.05},{"c":3,"k":"p","x":64.6,"y":0.2},{"c":3,"k":"p","x":65.5,"y":-0.05},{"c":3,"k":"p","x":66.5,"y":0.25},{"c":3,"k":"p","x":67.5,"y":0.0},{"c":3,"k":"p","x":68.4,"y":0.3},{"c":3,"k":"p","x":69.4,"y":-0.1},{"c":3,"k":"p","x":70.3,"y":-0.1},{"c":3,"k":"p","x":71.3,"y":-0.4},{"c":3,"k":"p","x":72.2,"y":-0.6},{"c":3,"k":"p","x":72.9,"y":-0.2}
],
"PDM":[
{"c":1,"k":"b","y":0,"y2":1},{"c":2,"k":"b","y":0,"y2":1},{"c":3,"k":"b","y":0,"y2":1},
{"c":1,"k":"d","x":29.27},{"c":1,"k":"d","x":33.05},{"c":1,"k":"m","x":31.16},
{"c":2,"k":"d","x":29.49},{"c":2,"k":"d","x":31.58},{"c":2,"k":"m","x":30.51},
{"c":3,"k":"d","x":21.92},{"c":3,"k":"d","x":26.97},{"c":3,"k":"m","x":24.41},
{"c":1,"k":"l","x":0.22,"y":0.997},{"c":1,"k":"l","x":1.0,"y":0.99},{"c":1,"k":"l","x":2.0,"y":0.997},{"c":1,"k":"l","x":3.08,"y":0.991},{"c":1,"k":"l","x":4.0,"y":0.986},{"c":1,"k":"l","x":5.1,"y":0.988},{"c":1,"k":"l","x":5.6,"y":0.994},{"c":1,"k":"l","x":6.0,"y":0.978},{"c":1,"k":"l","x":6.44,"y":0.986},{"c":1,"k":"l","x":6.95,"y":0.937},{"c":1,"k":"l","x":7.8,"y":0.994},{"c":1,"k":"l","x":8.54,"y":0.901},{"c":1,"k":"l","x":9.21,"y":0.984},{"c":1,"k":"l","x":10.05,"y":0.806},{"c":1,"k":"l","x":10.99,"y":0.907},{"c":1,"k":"l","x":11.5,"y":0.879},{"c":1,"k":"l","x":12.17,"y":0.92},{"c":1,"k":"l","x":12.91,"y":0.973},{"c":1,"k":"l","x":13.52,"y":0.844},{"c":1,"k":"l","x":14.19,"y":0.659},{"c":1,"k":"l","x":14.76,"y":0.632},{"c":1,"k":"l","x":15.7,"y":0.659},{"c":1,"k":"l","x":16.89,"y":0.686},{"c":1,"k":"l","x":17.56,"y":0.79},{"c":1,"k":"l","x":18.47,"y":0.901},{"c":1,"k":"l","x":19.58,"y":0.844},{"c":1,"k":"l","x":20.69,"y":0.768},{"c":1,"k":"l","x":21.87,"y":0.809},{"c":1,"k":"l","x":22.95,"y":0.735},{"c":1,"k":"l","x":23.79,"y":0.703},{"c":1,"k":"l","x":25.3,"y":0.628},{"c":1,"k":"l","x":26.48,"y":0.634},{"c":1,"k":"l","x":27.32,"y":0.594},{"c":1,"k":"l","x":28.33,"y":0.474},{"c":1,"k":"l","x":29.44,"y":0.39},{"c":1,"k":"l","x":30.35,"y":0.414},{"c":1,"k":"l","x":31.19,"y":0.463},{"c":1,"k":"l","x":32.04,"y":0.512},{"c":1,"k":"l","x":32.81,"y":0.536},{"c":1,"k":"l","x":33.99,"y":0.499},{"c":1,"k":"l","x":35.07,"y":0.605},{"c":1,"k":"l","x":36.24,"y":0.746},{"c":1,"k":"l","x":38.03,"y":0.831},{"c":1,"k":"l","x":39.11,"y":0.784},{"c":1,"k":"l","x":39.95,"y":0.659},
{"c":2,"k":"l","x":0.61,"y":0.991},{"c":2,"k":"l","x":1.78,"y":0.98},{"c":2,"k":"l","x":3.47,"y":0.99},{"c":2,"k":"l","x":4.98,"y":0.97},{"c":2,"k":"l","x":6.33,"y":0.98},{"c":2,"k":"l","x":7.17,"y":0.99},{"c":2,"k":"l","x":7.68,"y":0.955},{"c":2,"k":"l","x":8.18,"y":0.991},{"c":2,"k":"l","x":8.69,"y":0.91},{"c":2,"k":"l","x":9.19,"y":0.966},{"c":2,"k":"l","x":9.93,"y":0.82},{"c":2,"k":"l","x":10.88,"y":0.959},{"c":2,"k":"l","x":11.95,"y":0.719},{"c":2,"k":"l","x":13.3,"y":0.97},{"c":2,"k":"l","x":14.07,"y":0.811},{"c":2,"k":"l","x":15.25,"y":0.387},{"c":2,"k":"l","x":16.43,"y":0.659},{"c":2,"k":"l","x":16.94,"y":0.713},{"c":2,"k":"l","x":18.28,"y":0.955},{"c":2,"k":"l","x":19.8,"y":0.759},{"c":2,"k":"l","x":21.72,"y":0.888},{"c":2,"k":"l","x":23.84,"y":0.679},{"c":2,"k":"l","x":26.63,"y":0.872},{"c":2,"k":"l","x":27.88,"y":0.768},{"c":2,"k":"l","x":28.72,"y":0.485},{"c":2,"k":"l","x":29.56,"y":0.3},{"c":2,"k":"l","x":30.34,"y":0.259},{"c":2,"k":"l","x":31.25,"y":0.332},{"c":2,"k":"l","x":32.26,"y":0.507},{"c":2,"k":"l","x":32.93,"y":0.556},{"c":2,"k":"l","x":34.28,"y":0.499},{"c":2,"k":"l","x":35.79,"y":0.616},{"c":2,"k":"l","x":37.14,"y":0.67},{"c":2,"k":"l","x":38.15,"y":0.657},{"c":2,"k":"l","x":38.99,"y":0.67},{"c":2,"k":"l","x":39.9,"y":0.697},
{"c":3,"k":"l","x":0.61,"y":0.99},{"c":3,"k":"l","x":2.8,"y":0.99},{"c":3,"k":"l","x":4.98,"y":0.99},{"c":3,"k":"l","x":5.99,"y":0.984},{"c":3,"k":"l","x":6.84,"y":0.99},{"c":3,"k":"l","x":7.44,"y":0.955},{"c":3,"k":"l","x":8.18,"y":0.988},{"c":3,"k":"l","x":9.02,"y":0.984},{"c":3,"k":"l","x":9.7,"y":0.99},{"c":3,"k":"l","x":10.47,"y":0.921},{"c":3,"k":"l","x":11.48,"y":0.988},{"c":3,"k":"l","x":12.39,"y":0.959},{"c":3,"k":"l","x":13.57,"y":0.984},{"c":3,"k":"l","x":14.41,"y":0.888},{"c":3,"k":"l","x":15.42,"y":0.811},{"c":3,"k":"l","x":16.43,"y":0.888},{"c":3,"k":"l","x":17.54,"y":0.97},{"c":3,"k":"l","x":18.62,"y":0.955},{"c":3,"k":"l","x":19.46,"y":0.866},{"c":3,"k":"l","x":20.37,"y":0.681},{"c":3,"k":"l","x":21.14,"y":0.517},{"c":3,"k":"l","x":21.99,"y":0.425},{"c":3,"k":"l","x":23.0,"y":0.403},{"c":3,"k":"l","x":24.27,"y":0.373},{"c":3,"k":"l","x":25.69,"y":0.4},{"c":3,"k":"l","x":26.87,"y":0.463},{"c":3,"k":"l","x":28.05,"y":0.515},{"c":3,"k":"l","x":29.56,"y":0.496},{"c":3,"k":"l","x":30.91,"y":0.517},{"c":3,"k":"l","x":32.42,"y":0.637},{"c":3,"k":"l","x":34.11,"y":0.822},{"c":3,"k":"l","x":35.18,"y":0.855},{"c":3,"k":"l","x":36.3,"y":0.822},{"c":3,"k":"l","x":37.81,"y":0.801},{"c":3,"k":"l","x":38.99,"y":0.757},{"c":3,"k":"l","x":40.0,"y":0.681}
],
"SL":[
{"c":1,"k":"b","y":-3.5,"y2":1.5},{"c":2,"k":"b","y":-3.5,"y2":1.5},{"c":3,"k":"b","y":-3.5,"y2":1.5},
{"c":1,"k":"z","y":0},{"c":2,"k":"z","y":0},{"c":3,"k":"z","y":0},
{"c":1,"k":"d","x":29.27},{"c":1,"k":"d","x":33.05},{"c":1,"k":"m","x":31.16},
{"c":2,"k":"d","x":29.49},{"c":2,"k":"d","x":31.58},{"c":2,"k":"m","x":30.51},
{"c":3,"k":"d","x":21.92},{"c":3,"k":"d","x":26.97},{"c":3,"k":"m","x":24.41},
{"c":1,"k":"l","x":0.56,"y":0},{"c":1,"k":"l","x":3.08,"y":0.03},{"c":1,"k":"l","x":5.1,"y":0.07},{"c":1,"k":"l","x":5.78,"y":0.03},{"c":1,"k":"l","x":6.28,"y":0},{"c":1,"k":"l","x":7.96,"y":0.1},{"c":1,"k":"l","x":8.8,"y":0.01},{"c":1,"k":"l","x":9.31,"y":0.08},{"c":1,"k":"l","x":10.25,"y":-0.05},{"c":1,"k":"l","x":11.16,"y":0.09},{"c":1,"k":"l","x":12.17,"y":0.05},{"c":1,"k":"l","x":13.01,"y":0.13},{"c":1,"k":"l","x":14.19,"y":-0.13},{"c":1,"k":"l","x":14.87,"y":-0.15},{"c":1,"k":"l","x":15.88,"y":-0.12},{"c":1,"k":"l","x":17.22,"y":-0.05},{"c":1,"k":"l","x":18.4,"y":0.12},{"c":1,"k":"l","x":19.24,"y":0.09},{"c":1,"k":"l","x":20.59,"y":-0.02},{"c":1,"k":"l","x":22.1,"y":0.13},{"c":1,"k":"l","x":23.28,"y":0.04},{"c":1,"k":"l","x":24.97,"y":-0.15},{"c":1,"k":"l","x":25.98,"y":-0.22},{"c":1,"k":"l","x":27.32,"y":-0.17},{"c":1,"k":"l","x":28.33,"y":-0.3},{"c":1,"k":"l","x":29.51,"y":-0.57},{"c":1,"k":"l","x":30.29,"y":-0.61},{"c":1,"k":"l","x":31.36,"y":-0.48},{"c":1,"k":"l","x":32.37,"y":-0.41},{"c":1,"k":"l","x":33.38,"y":-0.38},{"c":1,"k":"l","x":34.39,"y":-0.27},{"c":1,"k":"l","x":35.74,"y":-0.07},{"c":1,"k":"l","x":37.02,"y":0},
{"c":2,"k":"l","x":0.61,"y":0},{"c":2,"k":"l","x":2.46,"y":0},{"c":2,"k":"l","x":4.14,"y":0.03},{"c":2,"k":"l","x":5.99,"y":0.065},{"c":2,"k":"l","x":6.67,"y":0.03},{"c":2,"k":"l","x":7.91,"y":0.11},{"c":2,"k":"l","x":8.79,"y":-0.01},{"c":2,"k":"l","x":9.19,"y":0.04},{"c":2,"k":"l","x":10.03,"y":-0.04},{"c":2,"k":"l","x":10.88,"y":0.1},{"c":2,"k":"l","x":12.05,"y":-0.11},{"c":2,"k":"l","x":13.3,"y":0.12},{"c":2,"k":"l","x":14.41,"y":-0.11},{"c":2,"k":"l","x":15.32,"y":-0.42},{"c":2,"k":"l","x":16.43,"y":-0.09},{"c":2,"k":"l","x":18.11,"y":0.27},{"c":2,"k":"l","x":19.9,"y":-0.07},{"c":2,"k":"l","x":21.72,"y":0.22},{"c":2,"k":"l","x":23.67,"y":-0.04},{"c":2,"k":"l","x":26.03,"y":0.26},{"c":2,"k":"l","x":27.71,"y":0.04},{"c":2,"k":"l","x":28.72,"y":-0.14},{"c":2,"k":"l","x":29.56,"y":-0.4},{"c":2,"k":"l","x":30.4,"y":-0.46},{"c":2,"k":"l","x":31.75,"y":-0.31},{"c":2,"k":"l","x":32.76,"y":-0.4},{"c":2,"k":"l","x":34.11,"y":-0.61},{"c":2,"k":"l","x":35.45,"y":-0.43},{"c":2,"k":"l","x":36.97,"y":-0.18},
{"c":3,"k":"l","x":0.61,"y":0},{"c":3,"k":"l","x":4.14,"y":0},{"c":3,"k":"l","x":5.99,"y":0.02},{"c":3,"k":"l","x":7.85,"y":0.065},{"c":3,"k":"l","x":9.19,"y":0.05},{"c":3,"k":"l","x":10.2,"y":0.065},{"c":3,"k":"l","x":11.89,"y":0.1},{"c":3,"k":"l","x":13.91,"y":0.13},{"c":3,"k":"l","x":15.59,"y":0.04},{"c":3,"k":"l","x":16.43,"y":0.11},{"c":3,"k":"l","x":17.44,"y":0.4},{"c":3,"k":"l","x":18.28,"y":0.27},{"c":3,"k":"l","x":19.29,"y":0.05},{"c":3,"k":"l","x":20.3,"y":-0.08},{"c":3,"k":"l","x":21.31,"y":-0.3},{"c":3,"k":"l","x":21.99,"y":-0.95},{"c":3,"k":"l","x":22.66,"y":-1.88},{"c":3,"k":"l","x":23.23,"y":-2.3},{"c":3,"k":"l","x":23.84,"y":-2.04},{"c":3,"k":"l","x":24.51,"y":-1.55},{"c":3,"k":"l","x":25.52,"y":-1.06},{"c":3,"k":"l","x":26.36,"y":-0.71},{"c":3,"k":"l","x":27.2,"y":-0.56},{"c":3,"k":"l","x":28.05,"y":-0.71},{"c":3,"k":"l","x":29.22,"y":-1.05},{"c":3,"k":"l","x":30.07,"y":-0.73},{"c":3,"k":"l","x":31.08,"y":-0.38},{"c":3,"k":"l","x":32.42,"y":-0.11},{"c":3,"k":"l","x":33.77,"y":0.05},{"c":3,"k":"l","x":35.12,"y":0.19},{"c":3,"k":"l","x":36.13,"y":0.15},{"c":3,"k":"l","x":37.07,"y":0.04}
],
"GL":[
{"c":1,"k":"b","y":-0.34,"y2":7.0},{"c":2,"k":"b","y":-0.77,"y2":20.07},{"c":3,"k":"b","y":-0.39,"y2":7.58},
{"c":1,"k":"d","x":29.27},{"c":1,"k":"d","x":33.05},{"c":1,"k":"m","x":31.16},
{"c":2,"k":"d","x":29.49},{"c":2,"k":"d","x":31.58},{"c":2,"k":"m","x":30.51},
{"c":3,"k":"d","x":21.92},{"c":3,"k":"d","x":26.97},{"c":3,"k":"m","x":24.41},
{"c":1,"k":"l","x":0.66,"y":3.35},{"c":1,"k":"l","x":0.72,"y":-0.32},{"c":1,"k":"l","x":1.73,"y":-0.13},{"c":1,"k":"l","x":2.58,"y":-0.22},{"c":1,"k":"l","x":3.08,"y":0.26},{"c":1,"k":"l","x":4.26,"y":0.19},{"c":1,"k":"l","x":4.76,"y":0.88},{"c":1,"k":"l","x":5.17,"y":0.47},{"c":1,"k":"l","x":5.94,"y":1.74},{"c":1,"k":"l","x":6.52,"y":0.66},{"c":1,"k":"l","x":6.95,"y":1.94},{"c":1,"k":"l","x":7.9,"y":0.3},{"c":1,"k":"l","x":9.48,"y":2.72},{"c":1,"k":"l","x":9.98,"y":2.46},{"c":1,"k":"l","x":10.76,"y":0.95},{"c":1,"k":"l","x":11.67,"y":2.46},{"c":1,"k":"l","x":12.44,"y":4.34},{"c":1,"k":"l","x":12.91,"y":3.94},{"c":1,"k":"l","x":13.92,"y":5.52},{"c":1,"k":"l","x":14.87,"y":3.66},{"c":1,"k":"l","x":15.94,"y":1.74},{"c":1,"k":"l","x":17.05,"y":3.5},{"c":1,"k":"l","x":17.9,"y":4.14},{"c":1,"k":"l","x":18.74,"y":4.73},{"c":1,"k":"l","x":19.68,"y":4.3},{"c":1,"k":"l","x":20.59,"y":4.82},{"c":1,"k":"l","x":21.43,"y":3.9},{"c":1,"k":"l","x":22.27,"y":3.49},{"c":1,"k":"l","x":23.45,"y":3.9},{"c":1,"k":"l","x":24.63,"y":5.14},{"c":1,"k":"l","x":25.47,"y":5.62},{"c":1,"k":"l","x":26.48,"y":6.06},{"c":1,"k":"l","x":27.66,"y":6.32},{"c":1,"k":"l","x":28.5,"y":6.26},{"c":1,"k":"l","x":29.34,"y":5.74},{"c":1,"k":"l","x":30.18,"y":4.55},{"c":1,"k":"l","x":31.19,"y":2.63},{"c":1,"k":"l","x":32.1,"y":1.5},{"c":1,"k":"l","x":33.05,"y":2.03},{"c":1,"k":"l","x":34.06,"y":3.5},{"c":1,"k":"l","x":35.07,"y":4.58},{"c":1,"k":"l","x":35.91,"y":4.86},{"c":1,"k":"l","x":36.92,"y":5.9},
{"c":2,"k":"l","x":0.61,"y":9.58},{"c":2,"k":"l","x":0.65,"y":-0.7},{"c":2,"k":"l","x":1.44,"y":-0.18},{"c":2,"k":"l","x":2.12,"y":0.16},{"c":2,"k":"l","x":3.13,"y":0.39},{"c":2,"k":"l","x":3.97,"y":1.41},{"c":2,"k":"l","x":4.47,"y":0.5},{"c":2,"k":"l","x":4.88,"y":2.89},{"c":2,"k":"l","x":5.22,"y":0.4},{"c":2,"k":"l","x":5.69,"y":3.84},{"c":2,"k":"l","x":6.16,"y":1.07},{"c":2,"k":"l","x":6.67,"y":3.75},{"c":2,"k":"l","x":7.17,"y":0.95},{"c":2,"k":"l","x":8.01,"y":4.36},{"c":2,"k":"l","x":8.52,"y":4.29},{"c":2,"k":"l","x":9.12,"y":0.95},{"c":2,"k":"l","x":9.93,"y":7.54},{"c":2,"k":"l","x":10.64,"y":6.02},{"c":2,"k":"l","x":11.45,"y":8.07},{"c":2,"k":"l","x":12.56,"y":5.88},{"c":2,"k":"l","x":13.64,"y":9.24},{"c":2,"k":"l","x":15.02,"y":16.51},{"c":2,"k":"l","x":16.6,"y":10.15},{"c":2,"k":"l","x":18.21,"y":1.75},{"c":2,"k":"l","x":20.03,"y":9.2},{"c":2,"k":"l","x":21.25,"y":7.13},{"c":2,"k":"l","x":22.32,"y":9.24},{"c":2,"k":"l","x":23.06,"y":10.15},{"c":2,"k":"l","x":24.01,"y":10.2},{"c":2,"k":"l","x":25.18,"y":9.47},{"c":2,"k":"l","x":26.43,"y":9.13},{"c":2,"k":"l","x":27.2,"y":9.47},{"c":2,"k":"l","x":28.05,"y":11.97},{"c":2,"k":"l","x":29.22,"y":15.83},{"c":2,"k":"l","x":30.24,"y":16.58},{"c":2,"k":"l","x":31.25,"y":14.24},{"c":2,"k":"l","x":32.42,"y":11.63},{"c":2,"k":"l","x":34.11,"y":8.45},{"c":2,"k":"l","x":35.96,"y":5.61},{"c":2,"k":"l","x":36.97,"y":12.65},
{"c":3,"k":"l","x":0.64,"y":3.56},{"c":3,"k":"l","x":0.69,"y":-0.38},{"c":3,"k":"l","x":1.45,"y":-0.3},{"c":3,"k":"l","x":2.47,"y":-0.12},{"c":3,"k":"l","x":3.5,"y":0.01},{"c":3,"k":"l","x":4.51,"y":0.33},{"c":3,"k":"l","x":5.02,"y":0.19},{"c":3,"k":"l","x":5.53,"y":1.32},{"c":3,"k":"l","x":6.04,"y":0.93},{"c":3,"k":"l","x":6.86,"y":2.06},{"c":3,"k":"l","x":7.27,"y":2.11},{"c":3,"k":"l","x":7.88,"y":0.54},{"c":3,"k":"l","x":8.8,"y":0.27},{"c":3,"k":"l","x":9.92,"y":0.85},{"c":3,"k":"l","x":10.74,"y":1.72},{"c":3,"k":"l","x":11.45,"y":1.59},{"c":3,"k":"l","x":12.36,"y":2.38},{"c":3,"k":"l","x":13.38,"y":3.03},{"c":3,"k":"l","x":14.2,"y":2.64},{"c":3,"k":"l","x":15.22,"y":1.64},{"c":3,"k":"l","x":16.75,"y":1.46},{"c":3,"k":"l","x":17.77,"y":2.11},{"c":3,"k":"l","x":18.79,"y":3.43},{"c":3,"k":"l","x":20.11,"y":5.27},{"c":3,"k":"l","x":21.33,"y":6.37},{"c":3,"k":"l","x":22.36,"y":6.19},{"c":3,"k":"l","x":23.58,"y":5.92},{"c":3,"k":"l","x":24.6,"y":6.19},{"c":3,"k":"l","x":25.92,"y":6.9},{"c":3,"k":"l","x":26.94,"y":7.16},{"c":3,"k":"l","x":28.98,"y":7.05},{"c":3,"k":"l","x":31.54,"y":6.77},{"c":3,"k":"l","x":33.57,"y":6.37},{"c":3,"k":"l","x":35.61,"y":5.87},{"c":3,"k":"l","x":36.12,"y":6.05},{"c":3,"k":"l","x":36.84,"y":6.77}
],
"AC":[
{"c":1,"k":"b","y":-0.247,"y2":0.5},{"c":2,"k":"b","y":-0.247,"y2":0.5},{"c":3,"k":"b","y":-0.247,"y2":0.5},
{"c":1,"k":"z","y":0},{"c":2,"k":"z","y":0},{"c":3,"k":"z","y":0},
{"c":1,"k":"d","x":29.27},{"c":1,"k":"d","x":33.05},{"c":1,"k":"m","x":31.16},
{"c":2,"k":"d","x":29.49},{"c":2,"k":"d","x":31.58},{"c":2,"k":"m","x":30.51},
{"c":3,"k":"d","x":21.92},{"c":3,"k":"d","x":26.97},{"c":3,"k":"m","x":24.41},
{"c":1,"k":"l","x":0.03,"y":0.33},{"c":1,"k":"l","x":0.13,"y":0.217},{"c":1,"k":"l","x":1.06,"y":0.176},{"c":1,"k":"l","x":1.9,"y":0.127},{"c":1,"k":"l","x":2.58,"y":0.045},{"c":1,"k":"l","x":3.76,"y":-0.02},{"c":1,"k":"l","x":4.6,"y":-0.053},{"c":1,"k":"l","x":6.44,"y":-0.068},{"c":1,"k":"l","x":7.8,"y":-0.063},{"c":1,"k":"l","x":9.81,"y":-0.033},{"c":1,"k":"l","x":12.17,"y":-0.008},{"c":1,"k":"l","x":14.87,"y":0.004},{"c":1,"k":"l","x":16.55,"y":0},{"c":1,"k":"l","x":18.57,"y":0.008},{"c":1,"k":"l","x":20.59,"y":-0.008},{"c":1,"k":"l","x":22.27,"y":-0.033},{"c":1,"k":"l","x":23.28,"y":-0.045},{"c":1,"k":"l","x":24.46,"y":-0.024},{"c":1,"k":"l","x":25.47,"y":0.008},{"c":1,"k":"l","x":26.99,"y":0.041},{"c":1,"k":"l","x":28.67,"y":0.055},{"c":1,"k":"l","x":30.02,"y":0.061},{"c":1,"k":"l","x":31.19,"y":0.055},{"c":1,"k":"l","x":32.37,"y":0.03},{"c":1,"k":"l","x":33.72,"y":-0.004},{"c":1,"k":"l","x":35.07,"y":-0.03},{"c":1,"k":"l","x":36.58,"y":-0.057},{"c":1,"k":"l","x":38.1,"y":-0.068},{"c":1,"k":"l","x":39.11,"y":-0.049},{"c":1,"k":"l","x":39.85,"y":-0.028},
{"c":2,"k":"l","x":0.1,"y":0.46},{"c":2,"k":"l","x":0.56,"y":0.292},{"c":2,"k":"l","x":1.58,"y":0.218},{"c":2,"k":"l","x":2.6,"y":0.119},{"c":2,"k":"l","x":3.62,"y":-0.005},{"c":2,"k":"l","x":4.63,"y":-0.104},{"c":2,"k":"l","x":5.66,"y":-0.153},{"c":2,"k":"l","x":6.46,"y":-0.173},{"c":2,"k":"l","x":7.49,"y":-0.128},{"c":2,"k":"l","x":8.71,"y":-0.054},{"c":2,"k":"l","x":10.24,"y":0.02},{"c":2,"k":"l","x":12.28,"y":0.064},{"c":2,"k":"l","x":14.01,"y":0.077},{"c":2,"k":"l","x":16.35,"y":0.045},{"c":2,"k":"l","x":18.91,"y":-0.017},{"c":2,"k":"l","x":21.45,"y":-0.067},{"c":2,"k":"l","x":23.09,"y":-0.079},{"c":2,"k":"l","x":25.02,"y":-0.054},{"c":2,"k":"l","x":27.57,"y":0.02},{"c":2,"k":"l","x":30.42,"y":0.082},{"c":2,"k":"l","x":32.67,"y":0.057},{"c":2,"k":"l","x":35.22,"y":0.008},{"c":2,"k":"l","x":37.77,"y":-0.035},{"c":2,"k":"l","x":39.91,"y":-0.049},
{"c":3,"k":"l","x":0.13,"y":0.386},{"c":3,"k":"l","x":0.95,"y":0.354},{"c":3,"k":"l","x":2.47,"y":0.292},{"c":3,"k":"l","x":4.0,"y":0.223},{"c":3,"k":"l","x":5.53,"y":0.144},{"c":3,"k":"l","x":7.06,"y":0.045},{"c":3,"k":"l","x":8.59,"y":-0.067},{"c":3,"k":"l","x":10.12,"y":-0.153},{"c":3,"k":"l","x":11.44,"y":-0.193},{"c":3,"k":"l","x":13.18,"y":-0.178},{"c":3,"k":"l","x":15.22,"y":-0.104},{"c":3,"k":"l","x":17.26,"y":-0.005},{"c":3,"k":"l","x":19.29,"y":0.074},{"c":3,"k":"l","x":21.33,"y":0.119},{"c":3,"k":"l","x":22.87,"y":0.119},{"c":3,"k":"l","x":24.39,"y":0.107},{"c":3,"k":"l","x":26.94,"y":0.089},{"c":3,"k":"l","x":28.98,"y":0.045},{"c":3,"k":"l","x":31.54,"y":-0.049},{"c":3,"k":"l","x":33.57,"y":-0.099},{"c":3,"k":"l","x":35.61,"y":-0.114},{"c":3,"k":"l","x":37.65,"y":-0.104},{"c":3,"k":"l","x":39.69,"y":-0.062}
]
},
"vconcat":[
{"data":{"name":"LC"},"spacing":19,"bounds":"flush",
 "facet":{"row":{"field":"r","type":"nominal","title":null,"header":{"labelExpr":"'LC'"}},"column":{"field":"c","type":"ordinal","title":null,"header":{"labelExpr":"datum.value==1?'211411477':datum.value==2?'211411621':'211413212'"}}},
 "spec":{"width":396,"height":306,
  "layer":[
   {"transform":[{"filter":"datum.k=='b'"}],"mark":{"type":"rule","opacity":0,"clip":true},"encoding":{"y":{"field":"y","type":"quantitative","scale":{"zero":false,"nice":false},"axis":{"orient":"right","tickCount":6,"title":null}},"y2":{"field":"y2"}}},
   {"transform":[{"filter":"datum.k=='p'"}],"mark":{"type":"square","size":14,"color":"black","opacity":1,"clip":true},"encoding":{"x":{"field":"x","type":"quantitative","scale":{"domain":[0,73.2],"nice":false,"zero":false},"axis":{"orient":"bottom","values":[5,10,15,20,25,30,35,40,45,50,55,60,65,70],"title":null}},"y":{"field":"y","type":"quantitative","axis":{"orient":"left","tickCount":6,"title":null}}}},
   {"transform":[{"filter":"datum.k=='r'"}],"mark":{"type":"line","color":"red","strokeWidth":2.2},"encoding":{"x":{"field":"x","type":"quantitative","axis":{"orient":"top","values":[5,10,15,20,25,30,35,40,45,50,55,60,65,70],"title":null}},"y":{"field":"y","type":"quantitative","axis":null}}}
  ],
  "resolve":{"axis":{"x":"independent","y":"independent"}}},
 "resolve":{"scale":{"y":"independent"}}},
{"data":{"name":"PDM"},"spacing":19,"bounds":"flush",
 "facet":{"row":{"field":"r","type":"nominal","title":null,"header":{"labelExpr":"'PDM'"}},"column":{"field":"c","type":"ordinal","title":null,"header":null}},
 "spec":{"width":396,"height":306,
  "layer":[
   {"transform":[{"filter":"datum.k=='b'"}],"mark":{"type":"rule","opacity":0,"clip":true},"encoding":{"y":{"field":"y","type":"quantitative","scale":{"zero":false,"nice":false},"axis":{"orient":"right","values":[0.1,0.2,0.3,0.4,0.5,0.6,0.7,0.8,0.9],"title":null}},"y2":{"field":"y2"}}},
   {"transform":[{"filter":"datum.k=='l'"}],"mark":{"type":"line","interpolate":"monotone"},"encoding":{"x":{"field":"x","type":"quantitative","scale":{"domain":[0,40],"nice":false,"zero":false},"axis":{"orient":"bottom","values":[5,10,15,20,25,30,35],"title":null}},"y":{"field":"y","type":"quantitative","axis":{"orient":"left","values":[0.1,0.2,0.3,0.4,0.5,0.6,0.7,0.8,0.9],"title":null}}}},
   {"transform":[{"filter":"datum.k=='d'"}],"mark":{"type":"rule","color":"#008000","strokeWidth":2.5,"strokeDash":[2.5,5],"clip":true},"encoding":{"x":{"field":"x","type":"quantitative","axis":{"orient":"top","values":[5,10,15,20,25,30,35],"title":null}}}},
   {"transform":[{"filter":"datum.k=='m'"}],"mark":{"type":"rule","color":"#008000","strokeWidth":2.5,"strokeDash":[17,9],"clip":true},"encoding":{"x":{"field":"x","type":"quantitative","axis":null}}}
  ],
  "resolve":{"axis":{"x":"independent","y":"independent"}}},
 "resolve":{"scale":{"y":"independent"}}},
{"data":{"name":"SL"},"spacing":19,"bounds":"flush",
 "facet":{"row":{"field":"r","type":"nominal","title":null,"header":{"labelExpr":"'SL'"}},"column":{"field":"c","type":"ordinal","title":null,"header":null}},
 "spec":{"width":396,"height":306,
  "layer":[
   {"transform":[{"filter":"datum.k=='b'"}],"mark":{"type":"rule","opacity":0,"clip":true},"encoding":{"y":{"field":"y","type":"quantitative","scale":{"zero":false,"nice":false},"axis":{"orient":"right","values":[-3,-2,-1,0,1],"title":null}},"y2":{"field":"y2"}}},
   {"transform":[{"filter":"datum.k=='z'"}],"mark":{"type":"rule","color":"#808080","strokeWidth":1,"strokeDash":[11,7],"clip":true},"encoding":{"y":{"field":"y","type":"quantitative","axis":null}}},
   {"transform":[{"filter":"datum.k=='l'"}],"mark":{"type":"line","interpolate":"monotone"},"encoding":{"x":{"field":"x","type":"quantitative","scale":{"domain":[0,40],"nice":false,"zero":false},"axis":{"orient":"bottom","values":[5,10,15,20,25,30,35],"title":null}},"y":{"field":"y","type":"quantitative","axis":{"orient":"left","values":[-3,-2,-1,0,1],"title":null}}}},
   {"transform":[{"filter":"datum.k=='d'"}],"mark":{"type":"rule","color":"#008000","strokeWidth":2.5,"strokeDash":[2.5,5],"clip":true},"encoding":{"x":{"field":"x","type":"quantitative","axis":{"orient":"top","values":[5,10,15,20,25,30,35],"title":null}}}},
   {"transform":[{"filter":"datum.k=='m'"}],"mark":{"type":"rule","color":"#008000","strokeWidth":2.5,"strokeDash":[17,9],"clip":true},"encoding":{"x":{"field":"x","type":"quantitative","axis":null}}}
  ],
  "resolve":{"axis":{"x":"independent","y":"independent"}}},
 "resolve":{"scale":{"y":"independent"}}},
{"data":{"name":"GL"},"spacing":19,"bounds":"flush",
 "facet":{"row":{"field":"r","type":"nominal","title":null,"header":{"labelExpr":"'GL'"}},"column":{"field":"c","type":"ordinal","title":null,"header":null}},
 "spec":{"width":396,"height":306,
  "layer":[
   {"transform":[{"filter":"datum.k=='b'"}],"mark":{"type":"rule","opacity":0,"clip":true},"encoding":{"y":{"field":"y","type":"quantitative","scale":{"zero":false,"nice":false},"axis":{"orient":"right","tickCount":6,"title":null}},"y2":{"field":"y2"}}},
   {"transform":[{"filter":"datum.k=='l'"}],"mark":{"type":"line","interpolate":"monotone"},"encoding":{"x":{"field":"x","type":"quantitative","scale":{"domain":[0,40],"nice":false,"zero":false},"axis":{"orient":"bottom","values":[5,10,15,20,25,30,35],"title":null}},"y":{"field":"y","type":"quantitative","axis":{"orient":"left","tickCount":6,"title":null}}}},
   {"transform":[{"filter":"datum.k=='d'"}],"mark":{"type":"rule","color":"#008000","strokeWidth":2.5,"strokeDash":[2.5,5],"clip":true},"encoding":{"x":{"field":"x","type":"quantitative","axis":{"orient":"top","values":[5,10,15,20,25,30,35],"title":null}}}},
   {"transform":[{"filter":"datum.k=='m'"}],"mark":{"type":"rule","color":"#008000","strokeWidth":2,"clip":true},"encoding":{"x":{"field":"x","type":"quantitative","axis":null}}}
  ],
  "resolve":{"axis":{"x":"independent","y":"independent"}}},
 "resolve":{"scale":{"y":"independent"}}},
{"data":{"name":"AC"},"spacing":19,"bounds":"flush",
 "facet":{"row":{"field":"r","type":"nominal","title":null,"header":{"labelExpr":"'AC'"}},"column":{"field":"c","type":"ordinal","title":null,"header":null}},
 "spec":{"width":396,"height":306,
  "layer":[
   {"transform":[{"filter":"datum.k=='b'"}],"mark":{"type":"rule","opacity":0,"clip":true},"encoding":{"y":{"field":"y","type":"quantitative","scale":{"zero":false,"nice":false},"axis":{"orient":"right","values":[-0.2,-0.1,0,0.1,0.2,0.3,0.4],"title":null}},"y2":{"field":"y2"}}},
   {"transform":[{"filter":"datum.k=='z'"}],"mark":{"type":"rule","color":"#808080","strokeWidth":1,"strokeDash":[11,7],"clip":true},"encoding":{"y":{"field":"y","type":"quantitative","axis":null}}},
   {"transform":[{"filter":"datum.k=='l'"}],"mark":{"type":"line","interpolate":"monotone"},"encoding":{"x":{"field":"x","type":"quantitative","scale":{"domain":[0,40],"nice":false,"zero":false},"axis":{"orient":"bottom","values":[5,10,15,20,25,30,35],"title":null}},"y":{"field":"y","type":"quantitative","axis":{"orient":"left","values":[-0.2,-0.1,0,0.1,0.2,0.3,0.4],"title":null}}}},
   {"transform":[{"filter":"datum.k=='d'"}],"mark":{"type":"rule","color":"#008000","strokeWidth":2.5,"strokeDash":[2.5,5],"clip":true},"encoding":{"x":{"field":"x","type":"quantitative","axis":{"orient":"top","values":[5,10,15,20,25,30,35],"title":null}}}},
   {"transform":[{"filter":"datum.k=='m'"}],"mark":{"type":"rule","color":"#008000","strokeWidth":2,"clip":true},"encoding":{"x":{"field":"x","type":"quantitative","axis":null}}}
  ],
  "resolve":{"axis":{"x":"independent","y":"independent"}}},
 "resolve":{"scale":{"y":"independent"}}}
]
}
